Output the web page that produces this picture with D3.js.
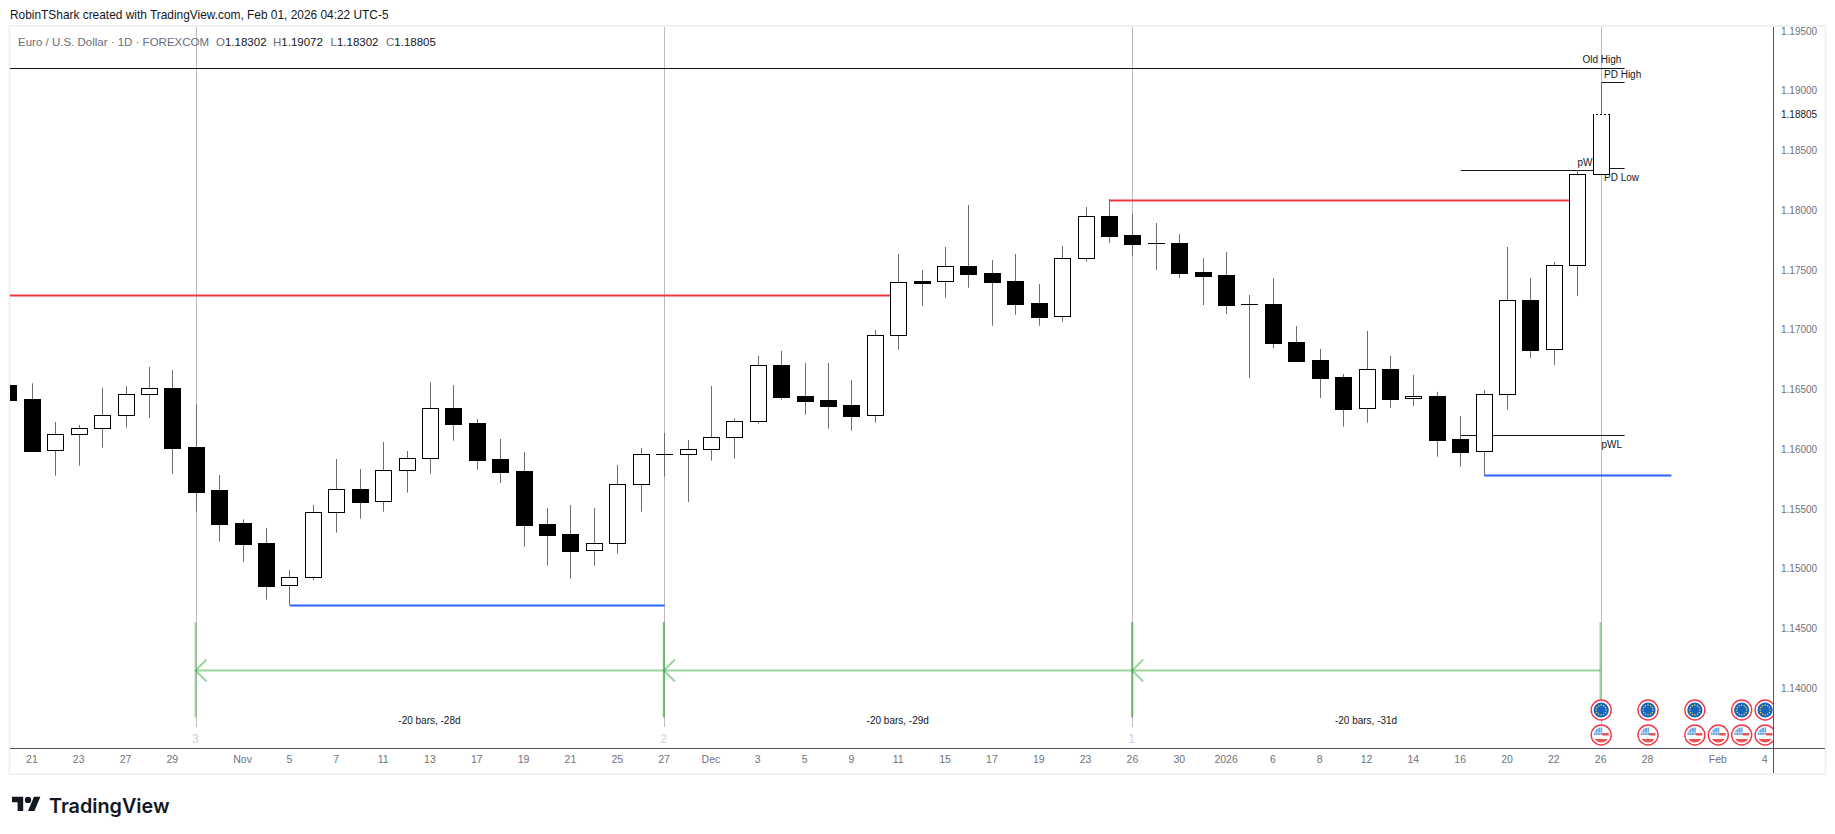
<!DOCTYPE html>
<html>
<head>
<meta charset="utf-8">
<script src="https://cdn.jsdelivr.net/npm/d3@7"></script>
<style>
  html, body { margin: 0; padding: 0; background: #fff; overflow: hidden; }
  text { font-family: "Liberation Sans", Roboto, sans-serif; }
</style>
</head>
<body>
<div class="canvas"></div>
<script>
// daily EURUSD bars, first one is cut by the left edge
const opens = [1.16537,1.16419,1.15987,1.16120,1.16174,1.16283,1.16455,1.16511,1.16018,1.15657,1.15381,1.15214,1.14857,1.14924,1.15468,1.15666,1.15560,1.15819,1.15923,1.16344,1.16218,1.15917,1.15817,1.15373,1.15289,1.15150,1.15212,1.15702,1.15956,1.15953,1.15998,1.16099,1.16233,1.16703,1.16444,1.16411,1.16369,1.16280,1.16953,1.17407,1.17401,1.17532,1.17474,1.17407,1.17223,1.17112,1.17594,1.17951,1.17792,1.17723,1.17725,1.17482,1.17457,1.17212,1.17215,1.16896,1.16746,1.16604,1.16338,1.16670,1.16422,1.16444,1.16085,1.15981,1.16459,1.17248,1.16835,1.17538,1.18302];
const highs = [1.16537,1.16551,1.16227,1.16202,1.16514,1.16528,1.16687,1.16662,1.16378,1.15783,1.15412,1.15340,1.14988,1.15532,1.15917,1.15833,1.16059,1.15984,1.16559,1.16537,1.16252,1.16085,1.15976,1.15507,1.15532,1.15507,1.15867,1.16009,1.16135,1.16076,1.16528,1.16258,1.16779,1.16821,1.16720,1.16720,1.16578,1.16997,1.17633,1.17499,1.17692,1.18043,1.17583,1.17633,1.17382,1.17700,1.18026,1.18093,1.17968,1.17892,1.17800,1.17599,1.17650,1.17290,1.17432,1.17030,1.16838,1.16629,1.16989,1.16779,1.16620,1.16478,1.16277,1.16495,1.17692,1.17432,1.17566,1.18336,1.19072];
const lows = [1.16411,1.15987,1.15777,1.15861,1.16012,1.16179,1.16260,1.15794,1.15476,1.15225,1.15057,1.14740,1.14694,1.14904,1.15300,1.15417,1.15476,1.15635,1.15794,1.16070,1.15828,1.15716,1.15183,1.15024,1.14915,1.15024,1.15125,1.15476,1.15769,1.15557,1.15903,1.15920,1.16213,1.16414,1.16288,1.16171,1.16154,1.16221,1.16832,1.17200,1.17267,1.17351,1.17033,1.17125,1.17033,1.17066,1.17568,1.17725,1.17616,1.17499,1.17432,1.17206,1.17131,1.16595,1.16846,1.16729,1.16428,1.16188,1.16221,1.16344,1.16361,1.15936,1.15853,1.15783,1.16330,1.16763,1.16704,1.17281,1.18302];
const closes = [1.16411,1.15987,1.16124,1.16174,1.16283,1.16459,1.16509,1.16012,1.15643,1.15376,1.15208,1.14857,1.14927,1.15471,1.15664,1.15557,1.15823,1.15923,1.16342,1.16213,1.15911,1.15811,1.15367,1.15284,1.15150,1.15212,1.15705,1.15956,1.15956,1.15998,1.16099,1.16233,1.16701,1.16439,1.16403,1.16361,1.16277,1.16953,1.17396,1.17390,1.17530,1.17465,1.17399,1.17215,1.17106,1.17597,1.17949,1.17784,1.17717,1.17723,1.17474,1.17449,1.17206,1.17212,1.16888,1.16737,1.16595,1.16336,1.16668,1.16419,1.16442,1.16079,1.15976,1.16459,1.17245,1.16830,1.17538,1.18302,1.18805];

const priceTicks = [1.195,1.19,1.185,1.18,1.175,1.17,1.165,1.16,1.155,1.15,1.145,1.14];
const lastClose = 1.18805;

const tickBars = [1,3,5,7,10,12,14,16,18,20,22,24,26,28,30,32,34,36,38,40,42,44,46,48,50,52,54,56,58,60,62,64,66,68,70,73,75];
const tickLabels = ['21','23','27','29','Nov','5','7','11','13','17','19','21','25','27','Dec','3','5','9','11','15','17','19','23','26','30','2026','6','8','12','14','16','20','22','26','28','Feb','4'];

// horizontal drawings: level, first bar, last bar
const blackLevels = [
    { level: 1.19188, from: 0, to: 69 },
    { level: 1.19072, from: 68, to: 69 },
    { level: 1.18350, from: 68, to: 69 },
    { level: 1.18333, from: 62, to: 68 },
    { level: 1.16115, from: 62, to: 69 }
];
const redLevels = [
    { level: 1.17290, from: 0, to: 38 },
    { level: 1.18085, from: 47, to: 67 }
];
const blueLevels = [
    { level: 1.14694, from: 12, to: 28 },
    { level: 1.15783, from: 63, to: 71 }
];

const rangeBars = [8, 28, 48, 68];
const rangeLabels = ['-20 bars, -28d', '-20 bars, -29d', '-20 bars, -31d'];
const cycleLabels = ['3', '2', '1'];
const rangePrice = { top: 1.1455, mid: 1.14147, bottom: 1.13754 };

const euEvents = [68, 70, 72, 74, 75];
const usEvents = [68, 70, 72, 73, 74, 75];

const dims = { width: 1835, height: 834, left: 10, right: 1773, top: 27, bottom: 748 };

const svg = d3.select('.canvas')
    .append('svg')
    .attr('width', dims.width)
    .attr('height', dims.height)
    .style('display', 'block');

const x = d3.scaleLinear().domain([0, 68]).range([8.97, 1601.2]);
const y = d3.scaleLinear().domain([1.195, 1.14]).range([31, 688]);

const crispX = v => Math.floor(v) + 0.5;
const crispY = v => Math.round(v) + 0.5;

// chart frame
svg.append('rect')
    .attr('x', 9.5).attr('y', 26)
    .attr('width', 1816).attr('height', 748)
    .attr('fill', 'none')
    .attr('stroke', '#f0f1f3')
    .attr('stroke-width', 2);

const defs = svg.append('defs');
defs.append('clipPath').attr('id', 'plotClip')
    .append('rect')
    .attr('x', dims.left).attr('y', dims.top)
    .attr('width', dims.right - dims.left)
    .attr('height', dims.bottom - dims.top);
defs.append('clipPath').attr('id', 'flagClip')
    .append('circle').attr('r', 7.6);

const graph = svg.append('g').attr('clip-path', 'url(#plotClip)');

// vertical cycle lines
graph.selectAll('.cycle')
    .data(rangeBars)
    .enter().append('line')
    .attr('class', 'cycle')
    .attr('x1', d => crispX(x(d))).attr('x2', d => crispX(x(d)))
    .attr('y1', dims.top).attr('y2', 727)
    .attr('stroke', '#bcbcbc');

// level lines
const drawLevels = (levels, colour, width) => {
    graph.selectAll(null)
        .data(levels)
        .enter().append('line')
        .attr('x1', d => x(d.from)).attr('x2', d => x(d.to))
        .attr('y1', d => crispY(y(d.level)))
        .attr('y2', d => crispY(y(d.level)))
        .attr('stroke', colour)
        .attr('stroke-width', width);
};
drawLevels(blackLevels, '#131722', 1);
drawLevels(redLevels, '#f23645', 2);
drawLevels(blueLevels, '#2962ff', 2);

// green date ranges
const green = '#4caf50';
const ranges = d3.range(rangeBars.length - 1);
const rangeGroup = graph.append('g')
    .attr('fill', 'none')
    .attr('stroke', green)
    .attr('stroke-opacity', 0.55)
    .attr('stroke-width', 2);

ranges.forEach(i => {
    const x0 = x(rangeBars[i]) - 0.7;
    const x1 = x(rangeBars[i + 1]) - 0.7;
    const mid = y(rangePrice.mid);
    [x0, x1].forEach(px => {
        rangeGroup.append('line')
            .attr('x1', px).attr('x2', px)
            .attr('y1', y(rangePrice.top)).attr('y2', y(rangePrice.bottom));
    });
    rangeGroup.append('line')
        .attr('x1', x0).attr('x2', x1)
        .attr('y1', mid).attr('y2', mid);
    rangeGroup.append('path')
        .attr('d', d3.line()([[x0 + 11, mid - 11], [x0, mid], [x0 + 11, mid + 11]]));
});

// chart annotations sit under the candles
const smallText = (px, py, str, anchor) => graph.append('text')
    .attr('x', px).attr('y', py)
    .attr('dy', '0.35em')
    .attr('text-anchor', anchor || 'start')
    .attr('font-size', 10)
    .attr('fill', '#131722')
    .text(str);

smallText(1582.5, 59.5, 'Old High');
smallText(1604, 74, 'PD High');
smallText(1604, 177, 'PD Low');
smallText(1577.5, 162, 'pWH');
smallText(1601.5, 444, 'pWL');

ranges.forEach(i => {
    smallText((x(rangeBars[i]) + x(rangeBars[i + 1])) / 2 - 1, 720, rangeLabels[i], 'middle');
    graph.append('text')
        .attr('x', x(rangeBars[i]) - 1).attr('y', 738.5)
        .attr('dy', '0.35em')
        .attr('text-anchor', 'middle')
        .attr('font-size', 12)
        .attr('fill', '#cfcfcf')
        .text(cycleLabels[i]);
});

// candles
const bars = d3.range(opens.length);

graph.selectAll('.wick')
    .data(bars)
    .enter().append('line')
    .attr('class', 'wick')
    .attr('x1', d => crispX(x(d))).attr('x2', d => crispX(x(d)))
    .attr('y1', d => y(highs[d])).attr('y2', d => y(lows[d]))
    .attr('stroke', '#6e6e6e');

graph.selectAll('.body')
    .data(bars)
    .enter().append('rect')
    .attr('class', 'body')
    .attr('x', d => crispX(x(d)) - 8)
    .attr('width', 16)
    .attr('y', d => crispY(y(Math.max(opens[d], closes[d]))))
    .attr('height', d => Math.max(Math.round(Math.abs(y(opens[d]) - y(closes[d]))), 0.01))
    .attr('fill', d => closes[d] < opens[d] ? '#000' : '#fff')
    .attr('stroke', '#000');

// last price line, white and dotted
graph.append('line')
    .attr('x1', dims.left).attr('x2', dims.right)
    .attr('y1', crispY(y(lastClose))).attr('y2', crispY(y(lastClose)))
    .attr('stroke', '#fff')
    .attr('stroke-dasharray', '2 2');

// economic events
const eventGroup = (bar, py) => {
    const g = graph.append('g')
        .attr('transform', `translate(${x(bar)},${py})`);
    g.append('circle').attr('r', 10)
        .attr('fill', '#fff').attr('stroke', '#f23645').attr('stroke-width', 1.4);
    return g;
};

euEvents.forEach(bar => {
    const g = eventGroup(bar, 710);
    g.append('circle').attr('r', 7.6).attr('fill', '#1565c0');
    g.selectAll('.star')
        .data(d3.range(12))
        .enter().append('circle')
        .attr('r', 0.75)
        .attr('cx', d => 5 * Math.cos(d * Math.PI / 6))
        .attr('cy', d => 5 * Math.sin(d * Math.PI / 6))
        .attr('fill', '#fdd835');
});

usEvents.forEach(bar => {
    const g = eventGroup(bar, 735);
    const flag = g.append('g').attr('clip-path', 'url(#flagClip)');
    flag.append('rect').attr('x', -8).attr('y', -8).attr('width', 16).attr('height', 16).attr('fill', '#fff');
    flag.append('rect').attr('x', -8).attr('y', -8).attr('width', 9).attr('height', 8).attr('fill', '#64a5e8');
    flag.selectAll('.grid')
        .data(d3.range(3))
        .enter().append('rect')
        .attr('x', d => -6 + d * 2.5).attr('y', -8)
        .attr('width', 0.6).attr('height', 8)
        .attr('fill', '#d5e8fa');
    flag.append('rect').attr('x', -8).attr('y', -3).attr('width', 9).attr('height', 0.6).attr('fill', '#d5e8fa');
    flag.append('rect').attr('x', 1).attr('y', -2).attr('width', 7).attr('height', 2.5).attr('fill', '#ef5350');
    flag.append('rect').attr('x', -8).attr('y', 4).attr('width', 16).attr('height', 4).attr('fill', '#ef5350');
});

// axes
const xAxis = d3.axisBottom(x)
    .tickValues(tickBars)
    .tickFormat((d, i) => tickLabels[i])
    .tickSize(0)
    .tickPadding(8);
const xAxisGroup = svg.append('g')
    .attr('transform', `translate(-1,${dims.bottom})`)
    .call(xAxis);
xAxisGroup.select('.domain').remove();
xAxisGroup.selectAll('text')
    .attr('font-size', 10.5)
    .attr('font-family', '"Liberation Sans", sans-serif')
    .attr('fill', '#6f727d');

const yAxis = d3.axisRight(y)
    .tickValues(priceTicks)
    .tickFormat(d3.format('.5f'))
    .tickSize(0)
    .tickPadding(8);
const yAxisGroup = svg.append('g')
    .attr('transform', `translate(${dims.right},0)`)
    .call(yAxis);
yAxisGroup.select('.domain').remove();
yAxisGroup.selectAll('text')
    .attr('font-size', 10)
    .attr('font-family', '"Liberation Sans", sans-serif')
    .attr('fill', '#6f727d');

svg.append('text')
    .attr('x', dims.right + 8).attr('y', y(lastClose))
    .attr('dy', '0.35em')
    .attr('font-size', 10)
    .attr('fill', '#131722')
    .text(d3.format('.5f')(lastClose));

svg.append('line')
    .attr('x1', dims.left).attr('x2', 1825)
    .attr('y1', dims.bottom + 0.5).attr('y2', dims.bottom + 0.5)
    .attr('stroke', '#50535e');
svg.append('line')
    .attr('x1', dims.right + 0.5).attr('x2', dims.right + 0.5)
    .attr('y1', dims.top).attr('y2', 773)
    .attr('stroke', '#50535e');

// header texts
svg.append('text')
    .attr('x', 10).attr('y', 15)
    .attr('dy', '0.35em')
    .attr('font-size', 11.9)
    .attr('fill', '#131722')
    .text('RobinTShark created with TradingView.com, Feb 01, 2026 04:22 UTC-5');

const legend = svg.append('text')
    .attr('y', 41.5)
    .attr('dy', '0.35em')
    .attr('font-size', 11.5);
legend.append('tspan').attr('x', 18).attr('fill', '#6a6d78')
    .text('Euro / U.S. Dollar · 1D · FOREXCOM');
[['O', 216, opens], ['H', 273, highs], ['L', 330.5, lows], ['C', 386, closes]].forEach(([name, px, values]) => {
    legend.append('tspan').attr('x', px).attr('fill', '#6a6d78').text(name);
    legend.append('tspan').attr('fill', '#131722')
        .text(d3.format('.5f')(values[values.length - 1]));
});

// logo
const logo = svg.append('g')
    .attr('transform', 'translate(12,793.5) scale(0.8)')
    .attr('fill', '#131722');
logo.append('path').attr('d', 'M14 22H7V11H0V4h14v18zM28 22h-8l7.5-18h8L28 22z');
logo.append('circle').attr('cx', 20).attr('cy', 8).attr('r', 4);

svg.append('text')
    .attr('x', 49).attr('y', 806)
    .attr('dy', '0.35em')
    .attr('font-size', 19.8)
    .attr('font-weight', 600)
    .style('font-family', 'Inter, sans-serif')
    .attr('fill', '#131722')
    .text('TradingView');
</script>
</body>
</html>
